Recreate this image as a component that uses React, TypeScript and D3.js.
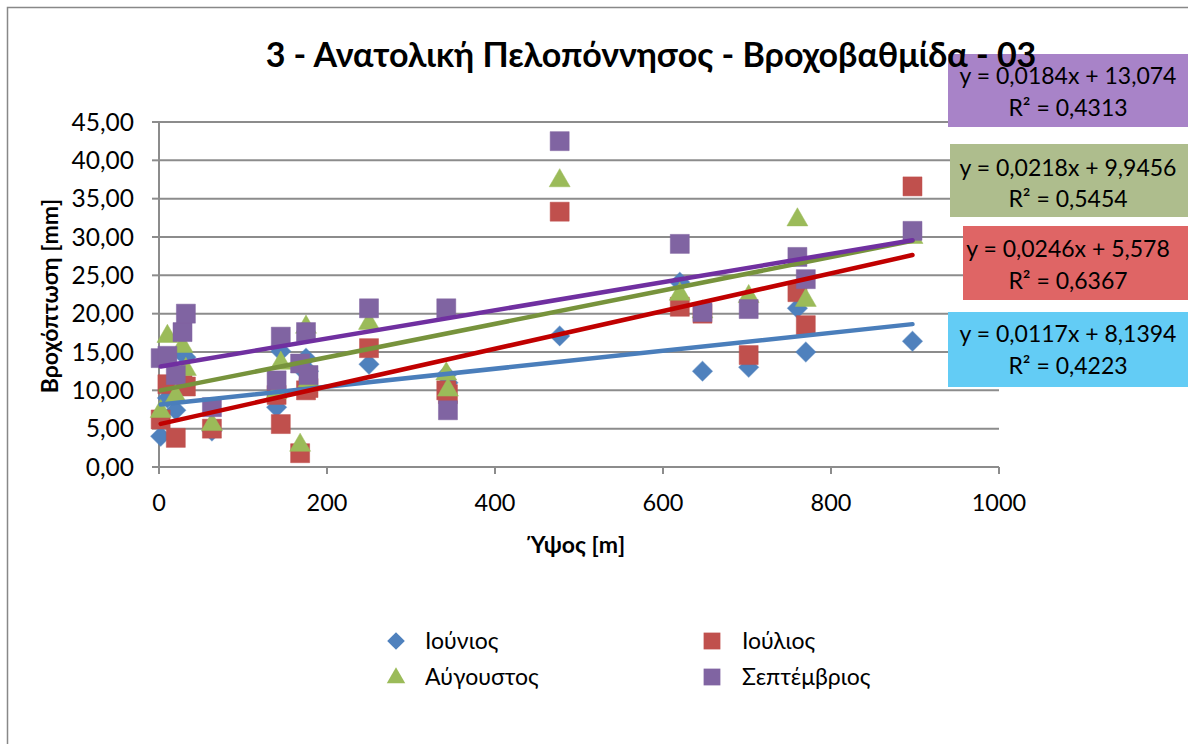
import React from "react";
import * as d3 from "d3";

// ---- data ----
const elevations = [2, 10, 20, 28, 32, 63, 140, 145, 168, 175, 178, 250, 342, 344, 477, 620, 647, 702, 760, 770, 897];
const june = [4.0, 9.0, 7.4, 14.9, 14.3, 4.7, 7.8, 15.1, 13.0, 14.2, 12.5, 13.4, 12.0, 11.0, 17.1, 24.1, 12.5, 13.0, 20.7, 15.0, 16.4];
const july = [6.2, 10.8, 3.8, 10.7, 10.5, 5.0, 9.4, 5.6, 1.8, 10.0, 10.3, 15.5, 10.0, 9.5, 33.3, 20.9, 20.0, 14.6, 22.8, 18.5, 36.6];
const august = [7.5, 17.3, 9.5, 16.0, 13.0, 5.8, 10.0, 13.8, 3.1, 18.5, 11.5, 19.0, 12.4, 10.3, 37.6, 22.8, 20.5, 22.5, 32.5, 22.0, 30.2];
const september = [14.2, 14.5, 12.0, 17.6, 20.0, 7.8, 11.3, 17.0, 13.5, 17.6, 12.0, 20.7, 20.7, 7.4, 42.5, 29.1, 20.2, 20.6, 27.4, 24.5, 30.8];

const seriesNames = ["Ιούνιος", "Ιούλιος", "Αύγουστος", "Σεπτέμβριος"];
const slopes = [0.0117, 0.0246, 0.0218, 0.0184];
const intercepts = [8.1394, 5.578, 9.9456, 13.074];
const rSquared = [0.4223, 0.6367, 0.5454, 0.4313];

const yTicks = [0, 5, 10, 15, 20, 25, 30, 35, 40, 45];
const xTicks = [0, 200, 400, 600, 800, 1000];

const title = "3 - Ανατολική Πελοπόννησος - Βροχοβαθμίδα - 03";
const xTitle = "Ύψος [m]";
const yTitle = "Βροχόπτωση [mm]";

// ---- styles ----
const markerColors = ["#4F81BD", "#C0504D", "#9BBB59", "#8064A2"];
const lineColors = ["#4A7EBB", "#C00000", "#77933C", "#7030A0"];
const boxColors = ["#63CCF5", "#DF6565", "#AEBD8D", "#A883C8"];
const symbols = [d3.symbolSquare, d3.symbolSquare, d3.symbolTriangle, d3.symbolSquare];
const symbolSizes = [200, 361, 190, 361];
const symbolRot = [45, 0, 0, 0];
// label box layout (blue, red, green, purple)
const boxes = [
  { x: 948, y: 312, h: 75, l1: 342, l2: 374 },
  { x: 963, y: 226, h: 74, l1: 257, l2: 289 },
  { x: 950, y: 144, h: 73, l1: 176, l2: 207 },
  { x: 948, y: 54, h: 73, l1: 84, l2: 116 },
];

const FONT = "Lato, 'Open Sans', sans-serif";

const fmt = (v: number) => String(v).replace(".", ",");

export default function App() {
  const allSeries = [june, july, august, september];
  const x = d3.scaleLinear().domain([0, 1000]).range([159, 999]);
  const y = d3.scaleLinear().domain([0, 45]).range([467, 122]);
  const xMin = d3.min(elevations)!;
  const xMax = d3.max(elevations)!;
  const grid = "#8C8C8C";
  const trend = d3
    .line<[number, number]>()
    .x((d) => x(d[0]))
    .y((d) => y(d[1]));

  return (
    <svg width={1188} height={744} style={{ position: "absolute", left: 0, top: 0, background: "#fff" }} fontFamily={FONT}>
      <rect x={7.5} y={7.5} width={1300} height={900} fill="#fff" stroke="#888" strokeWidth={1.5} />
      {/* gridlines */}
      {yTicks.map((t) => (
        <line key={"g" + t} x1={x(0)} x2={x(1000)} y1={y(t)} y2={y(t)} stroke={grid} strokeWidth={2} />
      ))}
      {/* y axis */}
      <line x1={x(0)} x2={x(0)} y1={y(45)} y2={y(0)} stroke={grid} strokeWidth={2} />
      {yTicks.map((t) => (
        <g key={"yt" + t}>
          <line x1={x(0) - 7} x2={x(0)} y1={y(t)} y2={y(t)} stroke={grid} strokeWidth={2} />
          <text x={134} y={y(t)} dy="0.35em" textAnchor="end" fontSize={24.5} fill="#000">
            {d3.format(".2f")(t).replace(".", ",")}
          </text>
        </g>
      ))}
      {/* x axis */}
      {xTicks.map((t) => (
        <g key={"xt" + t}>
          <line x1={x(t)} x2={x(t)} y1={y(0)} y2={y(0) + 7} stroke={grid} strokeWidth={2} />
          <text x={x(t)} y={503} dy="0.35em" textAnchor="middle" fontSize={23.5} fill="#000">
            {t}
          </text>
        </g>
      ))}
      <text x={578} y={545} dy="0.35em" textAnchor="middle" fontSize={23} fontWeight="bold">
        {xTitle}
      </text>
      <text transform="translate(50,296) rotate(-90)" dy="0.35em" textAnchor="middle" fontSize={23} fontWeight="bold">
        {yTitle}
      </text>

      {/* markers */}
      {allSeries.map((vals, si) => (
        <g key={"s" + si}>
          {vals.map((v, i) => (
            <path
              key={i}
              d={d3.symbol().type(symbols[si]).size(symbolSizes[si])()!}
              transform={`translate(${x(elevations[i])},${y(v) + (si === 2 ? 2 : 0)}) rotate(${symbolRot[si]})`}
              fill={markerColors[si]}
              stroke={markerColors[si]}
              strokeOpacity={0.5}
              strokeWidth={1}
            />
          ))}
        </g>
      ))}

      {/* trendlines */}
      {slopes.map((m, si) => (
        <path
          key={"t" + si}
          d={
            trend([
              [xMin, intercepts[si] + m * xMin],
              [xMax, intercepts[si] + m * xMax],
            ])!
          }
          stroke={lineColors[si]}
          strokeWidth={4.5}
          strokeLinecap="round"
          fill="none"
        />
      ))}

      {/* equation labels */}
      {boxes.map((b, si) => (
        <g key={"b" + si}>
          <rect x={b.x} y={b.y} width={1188 - b.x + 10} height={b.h} fill={boxColors[si]} />
          <text x={1068} y={b.l1} textAnchor="middle" fontSize={23} fill="#000">
            {`y = ${fmt(slopes[si])}x + ${fmt(intercepts[si])}`}
          </text>
          <text x={1068} y={b.l2} textAnchor="middle" fontSize={23} fill="#000">
            R² = {fmt(rSquared[si])}
          </text>
        </g>
      ))}

      {/* title (drawn above the label boxes) */}
      <text x={651} y={55} dy="0.35em" textAnchor="middle" fontSize={34} fontWeight="bold">
        {title}
      </text>

      {/* legend */}
      {seriesNames.map((name, si) => {
        const col = si % 2;
        const row = Math.floor(si / 2);
        const lx = col === 0 ? 396 : 712;
        const ly = row === 0 ? 641 : 677;
        return (
          <g key={"l" + si}>
            <path
              d={d3.symbol().type(symbols[si]).size(symbolSizes[si] * 0.78)()!}
              transform={`translate(${lx},${ly + (si === 2 ? 1 : 0)}) rotate(${symbolRot[si]})`}
              fill={markerColors[si]}
            />
            <text x={col === 0 ? 425 : 742} y={ly} dy="0.35em" fontSize={23} fill="#000">
              {name}
            </text>
          </g>
        );
      })}
    </svg>
  );
}
